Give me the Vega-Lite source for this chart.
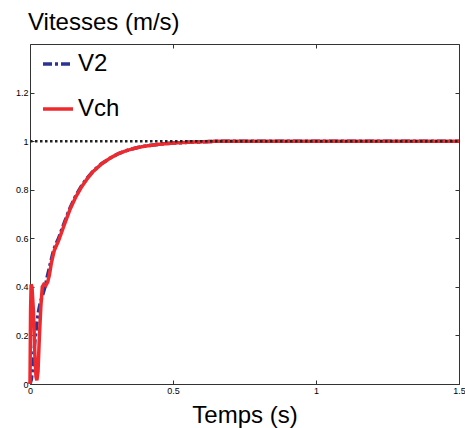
{
  "$schema": "https://vega.github.io/schema/vega-lite/v6.json",
  "width": 429,
  "height": 340,
  "autosize": {"type": "none"},
  "padding": {"left": 30, "top": 44, "right": 6, "bottom": 44},
  "title": {"text": "Vitesses (m/s)", "anchor": "start", "frame": "group", "fontSize": 24, "font": "Liberation Sans", "fontWeight": "normal", "color": "black", "offset": 9, "dx": -2},
  "config": {
    "view": {"stroke": null},
    "font": "Liberation Sans",
    "axis": {"grid": false, "domainColor": "#333", "tickColor": "#333", "tickSize": -4, "labelPadding": 6, "labelFontSize": 9, "labelColor": "black", "labelFont": "Liberation Sans", "titleFont": "Liberation Sans", "titleFontWeight": "normal", "titleColor": "black", "titleFontSize": 24}
  },
  "datasets": {
    "main": [
      {"t": 0, "v": 0, "serie": "V2"},
      {"t": 0.005, "v": 0.02, "serie": "V2"},
      {"t": 0.01, "v": 0.08, "serie": "V2"},
      {"t": 0.015, "v": 0.15, "serie": "V2"},
      {"t": 0.02, "v": 0.21, "serie": "V2"},
      {"t": 0.025, "v": 0.26, "serie": "V2"},
      {"t": 0.03, "v": 0.3, "serie": "V2"},
      {"t": 0.035, "v": 0.33, "serie": "V2"},
      {"t": 0.04, "v": 0.35, "serie": "V2"},
      {"t": 0.045, "v": 0.37, "serie": "V2"},
      {"t": 0.05, "v": 0.39, "serie": "V2"},
      {"t": 0.055, "v": 0.41, "serie": "V2"},
      {"t": 0.06, "v": 0.44, "serie": "V2"},
      {"t": 0.07, "v": 0.49, "serie": "V2"},
      {"t": 0.08, "v": 0.54, "serie": "V2"},
      {"t": 0.09, "v": 0.575, "serie": "V2"},
      {"t": 0.1, "v": 0.6, "serie": "V2"},
      {"t": 0.12, "v": 0.665, "serie": "V2"},
      {"t": 0.14, "v": 0.725, "serie": "V2"},
      {"t": 0.16, "v": 0.775, "serie": "V2"},
      {"t": 0.18, "v": 0.815, "serie": "V2"},
      {"t": 0.2, "v": 0.848, "serie": "V2"},
      {"t": 0.22, "v": 0.876, "serie": "V2"},
      {"t": 0.25, "v": 0.907, "serie": "V2"},
      {"t": 0.28, "v": 0.93, "serie": "V2"},
      {"t": 0.31, "v": 0.949, "serie": "V2"},
      {"t": 0.34, "v": 0.962, "serie": "V2"},
      {"t": 0.37, "v": 0.972, "serie": "V2"},
      {"t": 0.4, "v": 0.979, "serie": "V2"},
      {"t": 0.45, "v": 0.987, "serie": "V2"},
      {"t": 0.5, "v": 0.992, "serie": "V2"},
      {"t": 0.55, "v": 0.995, "serie": "V2"},
      {"t": 0.6, "v": 0.997, "serie": "V2"},
      {"t": 0.66, "v": 1.0, "serie": "V2"},
      {"t": 1.5, "v": 1.0, "serie": "V2"},
      {"t": 0, "v": 0, "serie": "Vch"},
      {"t": 0.002, "v": 0.3, "serie": "Vch"},
      {"t": 0.004, "v": 0.41, "serie": "Vch"},
      {"t": 0.007, "v": 0.4, "serie": "Vch"},
      {"t": 0.012, "v": 0.3, "serie": "Vch"},
      {"t": 0.017, "v": 0.12, "serie": "Vch"},
      {"t": 0.021, "v": 0.03, "serie": "Vch"},
      {"t": 0.024, "v": 0.015, "serie": "Vch"},
      {"t": 0.028, "v": 0.05, "serie": "Vch"},
      {"t": 0.033, "v": 0.2, "serie": "Vch"},
      {"t": 0.038, "v": 0.32, "serie": "Vch"},
      {"t": 0.043, "v": 0.4, "serie": "Vch"},
      {"t": 0.048, "v": 0.41, "serie": "Vch"},
      {"t": 0.055, "v": 0.405, "serie": "Vch"},
      {"t": 0.062, "v": 0.42, "serie": "Vch"},
      {"t": 0.068, "v": 0.45, "serie": "Vch"},
      {"t": 0.075, "v": 0.5, "serie": "Vch"},
      {"t": 0.085, "v": 0.55, "serie": "Vch"},
      {"t": 0.1, "v": 0.59, "serie": "Vch"},
      {"t": 0.12, "v": 0.656, "serie": "Vch"},
      {"t": 0.14, "v": 0.719, "serie": "Vch"},
      {"t": 0.16, "v": 0.77, "serie": "Vch"},
      {"t": 0.18, "v": 0.811, "serie": "Vch"},
      {"t": 0.2, "v": 0.845, "serie": "Vch"},
      {"t": 0.22, "v": 0.874, "serie": "Vch"},
      {"t": 0.25, "v": 0.906, "serie": "Vch"},
      {"t": 0.28, "v": 0.93, "serie": "Vch"},
      {"t": 0.31, "v": 0.949, "serie": "Vch"},
      {"t": 0.34, "v": 0.962, "serie": "Vch"},
      {"t": 0.37, "v": 0.972, "serie": "Vch"},
      {"t": 0.4, "v": 0.979, "serie": "Vch"},
      {"t": 0.45, "v": 0.987, "serie": "Vch"},
      {"t": 0.5, "v": 0.992, "serie": "Vch"},
      {"t": 0.55, "v": 0.995, "serie": "Vch"},
      {"t": 0.6, "v": 0.997, "serie": "Vch"},
      {"t": 0.66, "v": 1.0, "serie": "Vch"},
      {"t": 1.5, "v": 1.0, "serie": "Vch"}
    ],
    "ref": [
      {"t": 0, "v": 1},
      {"t": 1.5, "v": 1}
    ]
  },
  "layer": [
    {
      "data": {"name": "main"},
      "mark": {"type": "line", "strokeWidth": 3.5},
      "encoding": {
        "x": {"field": "t", "type": "quantitative", "scale": {"domain": [0, 1.5], "nice": false, "zero": false}, "axis": {"title": "Temps (s)", "values": [0, 0.5, 1, 1.5], "format": "~g", "labelFlush": false, "labelOverlap": false, "titlePadding": 8}},
        "y": {"field": "v", "type": "quantitative", "scale": {"domain": [0, 1.4], "nice": false}, "axis": {"title": null, "values": [0, 0.2, 0.4, 0.6, 0.8, 1, 1.2], "format": "~g", "labelFlush": false, "labelOverlap": false}},
        "color": {"field": "serie", "type": "nominal", "scale": {"domain": ["V2", "Vch"], "range": ["#2b3590", "#ee2a2f"]}, "legend": {"title": null, "orient": "top-left", "offset": 3, "symbolOffset": 8, "symbolType": "stroke", "symbolSize": 900, "symbolStrokeWidth": 3.5, "labelFontSize": 24, "labelFont": "Liberation Sans", "labelColor": "black", "rowPadding": 16, "labelOffset": 3}},
        "strokeDash": {"field": "serie", "type": "nominal", "scale": {"domain": ["V2", "Vch"], "range": [[9, 3, 3, 3], [1, 0]]}, "legend": {"title": null, "orient": "top-left"}}
      }
    },
    {
      "data": {"name": "ref"},
      "mark": {"type": "line", "strokeWidth": 2.5, "strokeDash": [2.5, 2.5], "color": "#222"},
      "encoding": {
        "x": {"field": "t", "type": "quantitative", "axis": {"orient": "top", "labels": false, "title": null, "values": [0, 0.5, 1, 1.5]}},
        "y": {"field": "v", "type": "quantitative", "axis": {"orient": "right", "labels": false, "title": null, "values": [0, 0.2, 0.4, 0.6, 0.8, 1, 1.2]}}
      }
    }
  ],
  "resolve": {"axis": {"x": "independent", "y": "independent"}}
}
